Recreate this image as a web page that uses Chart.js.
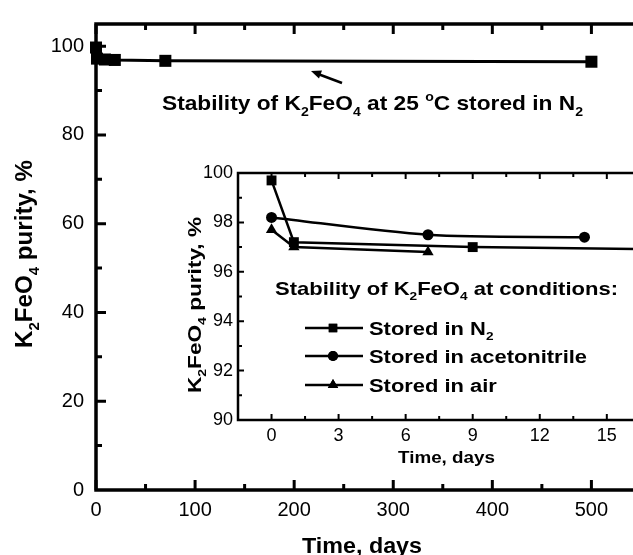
<!DOCTYPE html>
<html>
<head>
<meta charset="utf-8">
<script src="https://cdn.jsdelivr.net/npm/chart.js@4.4.1/dist/chart.umd.min.js"></script>
<style>
html, body { margin: 0; padding: 0; background: #fff; overflow: hidden; }
#wrap { position: relative; width: 633px; height: 555px; overflow: hidden; background: #fff; }
#main { position: absolute; left: 0; top: 0; }
#inset { position: absolute; left: 170px; top: 150px; }
</style>
</head>
<body>
<div id="wrap">
<canvas id="main" width="690" height="555"></canvas>
<canvas id="inset" width="520" height="330"></canvas>
</div>
<script>
// long-term storage under N2 (main plot)
const longDays = [0, 1, 9, 19, 70, 500];
const longPurity = [99.7, 97.2, 97.0, 96.9, 96.7, 96.5];

// first two weeks (inset)
const n2Days = [0, 1, 9, 19];
const n2Purity = [99.7, 97.2, 97.0, 96.9];
const acnDays = [0, 7, 14];
const acnPurity = [98.2, 97.5, 97.4];
const airDays = [0, 1, 7];
const airPurity = [97.7, 97.0, 96.8];

const mainXTicks = [0, 100, 200, 300, 400, 500];
const mainYTicks = [0, 20, 40, 60, 80, 100];
const insetXTicks = [0, 3, 6, 9, 12, 15];
const insetYTicks = [90, 92, 94, 96, 98, 100];

const FONT = '"Liberation Sans", Arial, Helvetica, sans-serif';

function pts(xs, ys) {
    return xs.map((x, i) => ({x: x, y: ys[i]}));
}

// bold text with sub/superscripts; parts = [[text, mode]]
function partsWidth(ctx, parts, size) {
    let w = 0;
    for (const [t, m] of parts) {
        ctx.font = 'bold ' + (m ? size * 0.62 : size) + 'px ' + FONT;
        w += ctx.measureText(t).width;
    }
    return w;
}
function drawParts(ctx, parts, x, y, size, width) {
    const w = partsWidth(ctx, parts, size);
    const k = width ? width / w : 1;
    ctx.save();
    ctx.translate(x, y);
    ctx.scale(k, 1);
    ctx.fillStyle = '#000';
    ctx.textAlign = 'left';
    ctx.textBaseline = 'alphabetic';
    let cx = 0;
    for (const [t, m] of parts) {
        const s = m ? size * 0.62 : size;
        ctx.font = 'bold ' + s + 'px ' + FONT;
        const dy = m === 'sub' ? size * 0.28 : (m === 'sup' ? -size * 0.45 : 0);
        ctx.fillText(t, cx, dy);
        cx += ctx.measureText(t).width;
    }
    ctx.restore();
}
function drawPartsUp(ctx, parts, baseX, centerY, size, width) {
    ctx.save();
    ctx.translate(baseX, centerY);
    ctx.rotate(-Math.PI / 2);
    drawParts(ctx, parts, -width / 2, 0, size, width);
    ctx.restore();
}

function frameTicks(chart, xMajor, yMajor, frameW, tickW, majLen, minLen) {
    const ctx = chart.ctx, a = chart.chartArea;
    const sx = chart.scales.x, sy = chart.scales.y;
    ctx.save();
    ctx.strokeStyle = '#000';
    ctx.lineWidth = frameW;
    ctx.strokeRect(a.left, a.top, a.right - a.left, a.bottom - a.top);
    ctx.lineWidth = tickW;
    ctx.beginPath();
    const xs = (xMajor[1] - xMajor[0]) / 2;
    for (let i = 0; ; i++) {
        const v = xMajor[0] + i * xs;
        if (v > sx.max) break;
        const p = sx.getPixelForValue(v);
        const len = i % 2 ? minLen : majLen;
        ctx.moveTo(p, a.bottom); ctx.lineTo(p, a.bottom - len);
        ctx.moveTo(p, a.top); ctx.lineTo(p, a.top + len);
    }
    const ys = (yMajor[1] - yMajor[0]) / 2;
    for (let i = 1; ; i++) {
        const v = yMajor[0] + i * ys;
        if (v >= sy.max) break;
        const p = sy.getPixelForValue(v);
        const len = i % 2 ? minLen : majLen;
        ctx.moveTo(a.left, p); ctx.lineTo(a.left + len, p);
    }
    ctx.stroke();
    ctx.restore();
}

const purityTitle = [['K', 0], ['2', 'sub'], ['FeO', 0], ['4', 'sub'], [' purity, %', 0]];

const mainDeco = {
    id: 'mainDeco',
    afterDraw(chart) {
        const ctx = chart.ctx;
        frameTicks(chart, mainXTicks, mainYTicks, 3.5, 3, 10, 6);
        drawParts(ctx, [['Time, days', 0]], 302, 553, 22, 120);
        drawPartsUp(ctx, purityTitle, 32, 254, 24, 188);
        drawParts(ctx, [['Stability of K', 0], ['2', 'sub'], ['FeO', 0], ['4', 'sub'],
            [' at 25 ', 0], ['o', 'sup'], ['C stored in N', 0], ['2', 'sub']], 162, 110, 21, 421);
        // arrow pointing at the curve
        ctx.save();
        ctx.strokeStyle = '#000';
        ctx.fillStyle = '#000';
        ctx.lineWidth = 2.5;
        ctx.beginPath();
        ctx.moveTo(342, 83); ctx.lineTo(318, 74);
        ctx.stroke();
        ctx.beginPath();
        ctx.moveTo(311, 71); ctx.lineTo(322, 70.5); ctx.lineTo(319, 78.5);
        ctx.closePath();
        ctx.fill();
        ctx.restore();
    }
};

const insetDeco = {
    id: 'insetDeco',
    afterDraw(chart) {
        const ctx = chart.ctx;
        frameTicks(chart, insetXTicks, insetYTicks, 2.5, 2, 6, 4);
        ctx.save();
        ctx.translate(-170, -150);
        drawParts(ctx, [['Time, days', 0]], 398, 463, 17, 97);
        drawPartsUp(ctx, purityTitle, 201, 305, 19, 176);
        drawParts(ctx, [['Stability of K', 0], ['2', 'sub'], ['FeO', 0], ['4', 'sub'],
            [' at conditions:', 0]], 275, 295, 18.5, 343);
        const k = 218 / partsWidth(ctx, [['Stored in acetonitrile', 0]], 18);
        const rows = [
            {y: 328, style: 'rect', r: 6, parts: [['Stored in N', 0], ['2', 'sub']]},
            {y: 356, style: 'circle', r: 5, parts: [['Stored in acetonitrile', 0]]},
            {y: 385, style: 'triangle', r: 6, parts: [['Stored in air', 0]]}
        ];
        for (const row of rows) {
            ctx.save();
            ctx.strokeStyle = '#000';
            ctx.fillStyle = '#000';
            ctx.lineWidth = 2.5;
            ctx.beginPath();
            ctx.moveTo(305, row.y); ctx.lineTo(363, row.y);
            ctx.stroke();
            Chart.helpers.drawPoint(ctx, {pointStyle: row.style, radius: row.r, borderWidth: 0}, 333, row.y);
            ctx.fill();
            ctx.restore();
            const w = partsWidth(ctx, row.parts, 18) * k;
            drawParts(ctx, row.parts, 369, row.y + 7, 18, w);
        }
        ctx.restore();
    }
};

function tickFont(size, pad) {
    return {padding: pad, color: '#000', font: {family: FONT, size: size}, maxRotation: 0, autoSkip: false};
}
const noGrid = {display: false, drawTicks: false, tickLength: 0};

new Chart(document.getElementById('main'), {
    type: 'line',
    data: {
        datasets: [{
            data: pts(longDays, longPurity),
            borderColor: '#000',
            borderWidth: 3,
            pointStyle: 'rect',
            pointRadius: 8.5,
            pointBackgroundColor: '#000',
            pointBorderWidth: 0,
            tension: 0,
            clip: false
        }]
    },
    options: {
        responsive: false,
        animation: false,
        layout: {padding: {top: 15, right: 54, left: 0, bottom: 0}},
        plugins: {legend: {display: false}, tooltip: {enabled: false}},
        scales: {
            x: {
                type: 'linear', min: 0, max: 545,
                afterFit: s => { s.height = 65; },
                afterBuildTicks: s => { s.ticks = mainXTicks.map(v => ({value: v})); },
                grid: noGrid, border: {display: false},
                ticks: tickFont(20, 8)
            },
            y: {
                type: 'linear', min: 0, max: 105,
                afterFit: s => { s.width = 96; },
                afterBuildTicks: s => { s.ticks = mainYTicks.map(v => ({value: v})); },
                grid: noGrid, border: {display: false},
                ticks: tickFont(20, 12)
            }
        }
    },
    plugins: [mainDeco]
});

function series(xs, ys, style, r, extra) {
    return Object.assign({
        data: pts(xs, ys),
        borderColor: '#000',
        borderWidth: 2.5,
        pointStyle: style,
        pointRadius: r,
        pointBackgroundColor: '#000',
        pointBorderWidth: 0,
        tension: 0
    }, extra || {});
}

new Chart(document.getElementById('inset'), {
    type: 'line',
    data: {
        datasets: [
            series(n2Days, n2Purity, 'rect', 7),
            series(acnDays, acnPurity, 'circle', 5.5, {tension: 0.3}),
            series(airDays, airPurity, 'triangle', 6.5)
        ]
    },
    options: {
        responsive: false,
        animation: false,
        layout: {padding: {top: 23, right: 34, left: 0, bottom: 0}},
        plugins: {legend: {display: false}, tooltip: {enabled: false}},
        scales: {
            x: {
                type: 'linear', min: -1.5, max: 17.2,
                afterFit: s => { s.height = 60; },
                afterBuildTicks: s => { s.ticks = insetXTicks.map(v => ({value: v})); },
                grid: noGrid, border: {display: false},
                ticks: tickFont(18, 5)
            },
            y: {
                type: 'linear', min: 90, max: 100,
                afterFit: s => { s.width = 68; },
                afterBuildTicks: s => { s.ticks = insetYTicks.map(v => ({value: v})); },
                grid: noGrid, border: {display: false},
                ticks: tickFont(18, 5)
            }
        }
    },
    plugins: [insetDeco]
});
</script>
</body>
</html>
